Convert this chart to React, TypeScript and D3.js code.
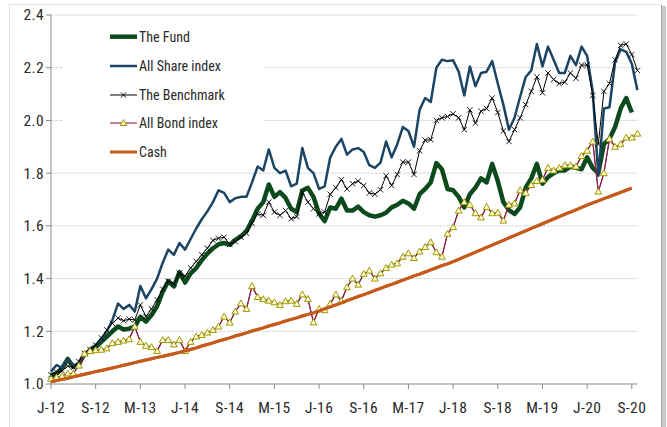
import React from 'react'
import * as d3 from 'd3'

// monthly index values, Jan 2012 = month 0
const tickLabels = ['J-12', 'S-12', 'M-13', 'J-14', 'S-14', 'M-15', 'J-16', 'S-16', 'M-17', 'J-18', 'S-18', 'M-19', 'J-20', 'S-20']
const tickMonths = [0, 8, 16, 24, 32, 40, 48, 56, 64, 72, 80, 88, 96, 104]
const yTicks = [1.0, 1.2, 1.4, 1.6, 1.8, 2.0, 2.2, 2.4]

const fund = [
  1.032, 1.04, 1.06, 1.095, 1.065, 1.075, 1.115, 1.125, 1.14, 1.16,
  1.18, 1.2, 1.218, 1.207, 1.21, 1.218, 1.255, 1.237, 1.262, 1.295,
  1.35, 1.39, 1.37, 1.425, 1.385, 1.42, 1.44, 1.47, 1.495, 1.515,
  1.53, 1.535, 1.528, 1.547, 1.56, 1.58, 1.62, 1.665, 1.69, 1.757,
  1.71, 1.728, 1.706, 1.665, 1.652, 1.734, 1.744, 1.71, 1.646, 1.618,
  1.67, 1.665, 1.703, 1.658, 1.658, 1.673, 1.652, 1.64, 1.635, 1.64,
  1.65, 1.67, 1.68, 1.695, 1.685, 1.665, 1.72, 1.74, 1.765, 1.838,
  1.815, 1.74, 1.735, 1.71, 1.67, 1.72, 1.745, 1.78, 1.765, 1.835,
  1.77, 1.69, 1.66, 1.645, 1.67, 1.745, 1.78, 1.835, 1.76, 1.785,
  1.8, 1.81, 1.81, 1.825, 1.82, 1.815, 1.86, 1.82, 1.8, 1.91,
  1.93, 1.975, 2.045, 2.085, 2.03,
]

const allShare = [
  1.047, 1.072, 1.06, 1.095, 1.068, 1.08, 1.11, 1.135, 1.148, 1.17,
  1.2, 1.243, 1.305, 1.285, 1.3, 1.275, 1.372, 1.325, 1.36, 1.4,
  1.46, 1.51, 1.49, 1.535, 1.51, 1.55, 1.59, 1.625, 1.655, 1.69,
  1.735, 1.725, 1.69, 1.705, 1.71, 1.71, 1.765, 1.825, 1.81, 1.89,
  1.82, 1.8, 1.81, 1.75, 1.76, 1.895, 1.82, 1.8, 1.74, 1.75,
  1.86, 1.9, 1.93, 1.87, 1.89, 1.895, 1.88, 1.83, 1.82, 1.84,
  1.92, 1.86, 1.91, 1.975, 1.96, 1.9, 2.04, 2.085, 2.07, 2.2,
  2.23, 2.225, 2.228, 2.185, 2.095, 2.205, 2.13, 2.18, 2.185, 2.225,
  2.14, 2.06, 1.965, 2.01, 2.09, 2.165, 2.19, 2.29, 2.205, 2.28,
  2.23, 2.18, 2.18, 2.245, 2.21, 2.28, 2.245, 2.11, 1.79, 2.045,
  2.05, 2.22, 2.27, 2.26, 2.215, 2.115,
]

const benchmark = [
  1.035, 1.045, 1.05, 1.068, 1.063, 1.085, 1.116, 1.13, 1.148, 1.175,
  1.205, 1.23, 1.25, 1.24, 1.246, 1.243, 1.3, 1.256, 1.285, 1.32,
  1.36, 1.39, 1.38, 1.42, 1.41, 1.44, 1.465, 1.49, 1.515, 1.545,
  1.553, 1.557, 1.53, 1.54, 1.557, 1.572, 1.61, 1.645, 1.64, 1.69,
  1.652, 1.64, 1.658, 1.627, 1.635, 1.728, 1.69, 1.665, 1.646, 1.652,
  1.72, 1.745, 1.775, 1.74, 1.76, 1.77, 1.753, 1.725, 1.72, 1.737,
  1.79, 1.753, 1.795, 1.842, 1.842, 1.795, 1.885, 1.925, 1.927, 2.0,
  2.01, 2.015, 2.025, 2.01, 1.965, 2.04, 1.99, 2.035, 2.045, 2.085,
  2.03, 1.96, 1.92, 1.965, 2.01, 2.06, 2.11, 2.165, 2.105, 2.18,
  2.155, 2.14, 2.145, 2.18, 2.16, 2.21, 2.21, 2.095, 1.91, 2.11,
  2.14, 2.23, 2.285, 2.29, 2.25, 2.19,
]

const allBond = [
  1.02, 1.025, 1.03, 1.04, 1.04, 1.07, 1.115, 1.125, 1.128, 1.13,
  1.135, 1.155, 1.16, 1.165, 1.17, 1.218, 1.16, 1.145, 1.14, 1.125,
  1.167, 1.167, 1.15, 1.167, 1.125, 1.16, 1.18, 1.186, 1.195, 1.205,
  1.218, 1.256, 1.233, 1.275, 1.306, 1.285, 1.372, 1.33, 1.322, 1.316,
  1.31, 1.3, 1.314, 1.316, 1.304, 1.34, 1.323, 1.234, 1.285, 1.28,
  1.304, 1.34, 1.316, 1.367, 1.4, 1.377, 1.418, 1.43, 1.4, 1.42,
  1.44, 1.453, 1.458, 1.483, 1.496, 1.478, 1.503, 1.52, 1.538, 1.5,
  1.483, 1.57, 1.595, 1.658, 1.69, 1.68, 1.648, 1.632, 1.672, 1.648,
  1.65, 1.62, 1.68, 1.685, 1.735, 1.725, 1.755, 1.77, 1.775, 1.82,
  1.81, 1.82, 1.83, 1.83, 1.825, 1.865, 1.885, 1.92, 1.73, 1.8,
  1.93, 1.9, 1.91, 1.935, 1.935, 1.95,
]

const cash = [
  1.008, 1.013, 1.018, 1.022, 1.027, 1.032, 1.037, 1.042, 1.047, 1.051,
  1.056, 1.061, 1.066, 1.071, 1.076, 1.081, 1.086, 1.091, 1.096, 1.101,
  1.105, 1.11, 1.115, 1.12, 1.125, 1.131, 1.137, 1.144, 1.15, 1.156,
  1.163, 1.169, 1.175, 1.182, 1.188, 1.194, 1.201, 1.207, 1.213, 1.22,
  1.226, 1.232, 1.239, 1.245, 1.251, 1.258, 1.264, 1.27, 1.277, 1.285,
  1.293, 1.3, 1.308, 1.316, 1.324, 1.332, 1.339, 1.347, 1.355, 1.363,
  1.371, 1.378, 1.386, 1.394, 1.402, 1.41, 1.417, 1.425, 1.433, 1.441,
  1.449, 1.456, 1.464, 1.473, 1.482, 1.491, 1.5, 1.509, 1.518, 1.527,
  1.536, 1.545, 1.554, 1.563, 1.572, 1.581, 1.59, 1.599, 1.608, 1.617,
  1.626, 1.635, 1.644, 1.652, 1.661, 1.67, 1.679, 1.687, 1.695, 1.703,
  1.711, 1.719, 1.727, 1.735, 1.743,
]

const seriesNames = ['The Fund', 'All Share index', 'The Benchmark', 'All Bond index', 'Cash']

const FONT = "'Liberation Sans Narrow', 'Roboto Condensed', Lato, sans-serif"

export default function App() {
  const width = 667
  const height = 427
  const x = d3.scaleLinear().domain([0, 105]).range([51, 637.4])
  const y = d3.scaleLinear().domain([1, 2.4]).range([384, 15])

  const line = d3.line<number>()
    .x((d, i) => x(i))
    .y(d => y(d))

  const series = [
    { name: seriesNames[0], data: fund, color: '#0b4a1d', w: 4.5 },
    { name: seriesNames[1], data: allShare, color: '#1b4563', w: 2.5 },
    { name: seriesNames[2], data: benchmark, color: '#000000', w: 1 },
    { name: seriesNames[3], data: allBond, color: '#8b1f48', w: 1.1 },
    { name: seriesNames[4], data: cash, color: '#c55a1a', w: 3 },
  ]

  const tri = (cx: number, cy: number) =>
    `M${cx},${cy - 3.4}L${cx + 3.4},${cy + 2.5}L${cx - 3.4},${cy + 2.5}Z`
  const cross = (cx: number, cy: number) =>
    `M${cx - 2.7},${cy - 2.7}L${cx + 2.7},${cy + 2.7}M${cx - 2.7},${cy + 2.7}L${cx + 2.7},${cy - 2.7}`

  const legendY = [36.7, 66, 95, 123, 152]

  return (
    <svg width={width} height={height} style={{ position: 'absolute', left: 0, top: 0, background: '#fff' }}>
      {/* frame */}
      <rect x={9.5} y={4.5} width={652} height={440} fill="none" stroke="#e3e3e3" />
      <rect x={662} y={6} width={4} height={430} fill="#c9c9c9" />
      <line x1={661.5} x2={661.5} y1={5} y2={430} stroke="#a0a0a0" />

      {/* grid */}
      {yTicks.slice(1).map(t => (
        <line key={t} x1={51} x2={637.4} y1={y(t)} y2={y(t)} stroke="#d4d4d4" strokeWidth={1} strokeDasharray="3 1" />
      ))}

      {/* legend background */}
      <rect x={63} y={21} width={201} height={146} fill="#fff" />

      {/* axes */}
      <line x1={51} x2={51} y1={y(2.4)} y2={y(1)} stroke="#8a8a8a" />
      <line x1={51} x2={637.4} y1={y(1)} y2={y(1)} stroke="#8a8a8a" />
      {yTicks.map(t => (
        <g key={t}>
          <line x1={46} x2={51} y1={y(t)} y2={y(t)} stroke="#8a8a8a" />
          <text x={44} y={y(t)} dy="0.35em" textAnchor="end" fontFamily={FONT} fontSize={15.5} letterSpacing={0.4} fill="#2a2a2a">
            {t.toFixed(1)}
          </text>
        </g>
      ))}
      {tickMonths.map((m, i) => (
        <g key={m}>
          <line x1={x(m)} x2={x(m)} y1={384} y2={389} stroke="#8a8a8a" />
          <text x={x(m)} y={407.5} dy="0.35em" textAnchor="middle" fontFamily={FONT} fontSize={15.5} letterSpacing={0.4} fill="#2a2a2a">
            {tickLabels[i]}
          </text>
        </g>
      ))}

      {/* series */}
      {series.map(s => (
        <path key={s.name} d={line(s.data) || ''} fill="none" stroke={s.color} strokeWidth={s.w} strokeLinejoin="round" />
      ))}
      <path d={benchmark.map((v, i) => cross(x(i), y(v))).join('')} stroke="#000" strokeWidth={0.9} fill="none" />
      <path d={line(allBond) || ''} fill="none" stroke="#8b1f48" strokeWidth={1.1} />
      {allBond.map((v, i) => (
        <path key={i} d={tri(x(i), y(v))} fill="#fffbd0" stroke="#9c9a00" strokeWidth={1} />
      ))}
      <path d={line(cash) || ''} fill="none" stroke="#c55a1a" strokeWidth={3} />

      {/* legend */}
      {series.map((s, i) => (
        <g key={s.name}>
          <line x1={110} x2={137} y1={legendY[i]} y2={legendY[i]} stroke={s.color} strokeWidth={s.w} />
          {i === 2 && <path d={cross(123.5, legendY[i])} stroke="#000" strokeWidth={0.9} />}
          {i === 3 && <path d={tri(123.5, legendY[i])} fill="#fffbd0" stroke="#9c9a00" strokeWidth={1} />}
          <text x={139} y={legendY[i]} dy="0.35em" fontFamily={FONT} fontSize={14} fill="#2a2a2a">{s.name}</text>
        </g>
      ))}
    </svg>
  )
}
